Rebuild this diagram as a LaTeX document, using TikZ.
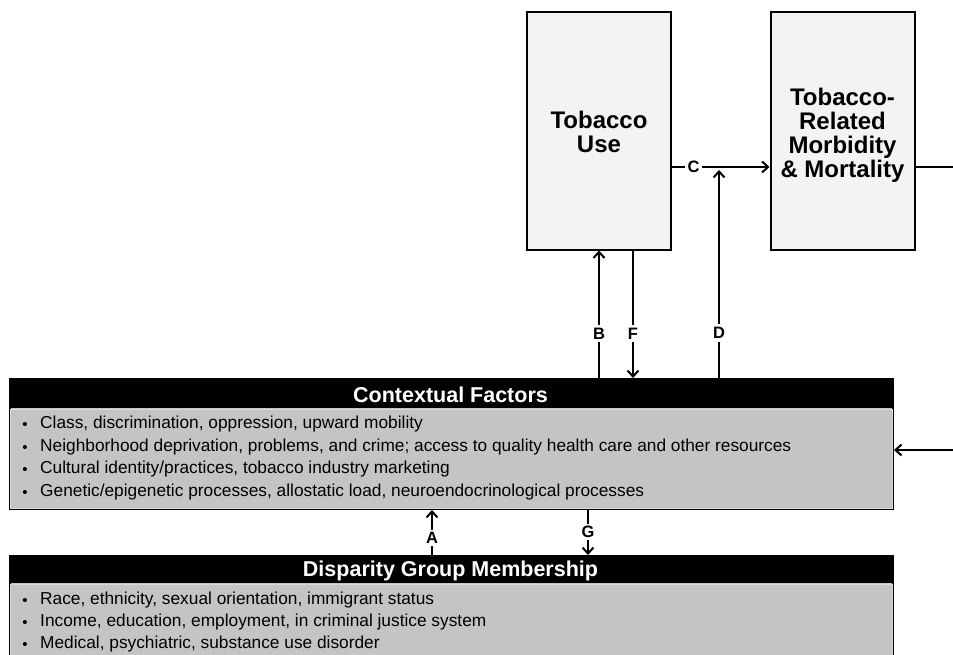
\documentclass[tikz,border=0pt]{standalone}
\usepackage{fontspec}
\setmainfont{Liberation Sans}
\usetikzlibrary{arrows.meta,calc}
\definecolor{boxfill}{HTML}{F3F3F3}
\definecolor{bodyfill}{HTML}{C4C4C4}
\tikzset{
  bigbox/.style={draw=black, line width=2pt, fill=boxfill, minimum width=144pt, minimum height=237pt, inner sep=0pt},
  bigtext/.style={align=center, inner sep=0pt, font=\fontsize{24}{24}\selectfont\bfseries},
  panel/.style={draw=black, line width=2pt, fill=bodyfill, minimum width=883pt, inner sep=0pt, anchor=north west},
  paneltitle/.style={text=white, font=\fontsize{21.5}{22}\selectfont\bfseries, inner sep=0pt},
  bul/.style={anchor=mid west, inner sep=0pt, font=\fontsize{17.3}{19}\selectfont},
  bulmark/.style={inner sep=0pt, font=\fontsize{15}{15}\selectfont},
  conn/.style={line width=2.2pt},
  arr/.style={line width=2.2pt, -{Straight Barb[length=6pt,width=11pt,line width=2pt]}},
  lbl/.style={fill=white, inner sep=3pt, font=\fontsize{16.5}{17}\selectfont\bfseries}
}
\newcommand{\bulline}[3]{\node[bulmark] (#1m) at (25,#2) {\textbullet};\node[bul] (#1) at (40,#2) {#3};}
\begin{document}
\begin{tikzpicture}[x=1pt,y=-1pt]
\path[use as bounding box, clip] (0,0) rectangle (953,655);
\fill[white] (0,0) rectangle (953,655);
% top boxes
\node[bigbox] (tu) at (599,131) {};
\node[bigtext] (tut) at (599,132) {Tobacco\\Use};
\node[bigbox] (mm) at (842.5,131) {};
\node[bigtext] (mmt) at (842.5,135) {Tobacco-\\Related\\Morbidity\\\& Mortality};
% contextual factors panel
\node[panel, minimum height=130pt] (ctx) at (9,378) {};
\fill[black] (ctx.north west) rectangle ($(ctx.north east)+(0,30)$);
\draw[white!85!black, line width=0.8pt] ($(ctx.north west)+(1.6,31.5)$) rectangle ($(ctx.south east)+(-1.6,-1.6)$);
\node[paneltitle] (ctxt) at (450.5,394.5) {Contextual Factors};
\bulline{c1}{426}{Class, discrimination, oppression, upward mobility}
\bulline{c2}{448.5}{Neighborhood deprivation, problems, and crime; access to quality health care and other resources}
\bulline{c3}{471}{Cultural identity/practices, tobacco industry marketing}
\bulline{c4}{493.5}{Genetic/epigenetic processes, allostatic load, neuroendocrinological processes}
% disparity group membership panel
\node[panel, minimum height=140pt] (dg) at (9,555) {};
\fill[black] (dg.north west) rectangle ($(dg.north east)+(0,28)$);
\draw[white!85!black, line width=0.8pt] ($(dg.north west)+(1.6,29.5)$) rectangle ($(dg.south east)+(-1.6,-1.6)$);
\node[paneltitle] (dgt) at (450.5,571) {Disparity Group Membership};
\bulline{d1}{602}{Race, ethnicity, sexual orientation, immigrant status}
\bulline{d2}{624}{Income, education, employment, in criminal justice system}
\bulline{d3}{646}{Medical, psychiatric, substance use disorder}
% connectors
\coordinate (dtip) at (719,170);
\coordinate (fx) at (633,0);
\coordinate (ax) at (432,0);
\coordinate (gx) at (588,0);
\coordinate (rtop) at (953,167);
\coordinate (rmid) at (953,450);
\draw[arr] (tu.south |- ctx.north) -- node[lbl, pos=0.35] {B} (tu.south);
\draw[arr] (fx |- tu.south) -- node[lbl, pos=0.65] {F} (fx |- ctx.north);
\draw[arr] (dtip |- ctx.north) -- node[lbl, pos=0.216] {D} (dtip);
\draw[arr] ([yshift=-36pt]tu.east) -- node[lbl, pos=0.22] {C} ([yshift=-36pt]mm.west);
\draw[conn] ([yshift=-36pt]mm.east) -- (rtop);
\draw[arr] (rmid) -- (rmid -| ctx.east);
\draw[arr] (ax |- dg.north) -- node[lbl, pos=0.38, inner sep=2pt] {A} (ax |- ctx.south);
\draw[arr] (gx |- ctx.south) -- node[lbl, pos=0.49, inner sep=2pt] {G} (gx |- dg.north);
\end{tikzpicture}
\end{document}
